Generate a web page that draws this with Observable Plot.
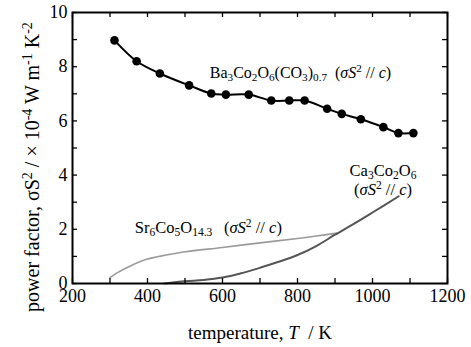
<!DOCTYPE html>
<html><head><meta charset="utf-8">
<script src="https://cdn.jsdelivr.net/npm/d3@7"></script>
<script src="https://cdn.jsdelivr.net/npm/@observablehq/plot@0.6"></script>
<style>body{margin:0;background:#fff} svg text{white-space:pre}</style>
</head><body><div id="chart"></div>
<script>
// Ba3Co2O6(CO3)0.7 measured points
const baT  = [312, 371, 433, 511, 570, 609, 670, 730, 778, 819, 879, 918, 969, 1029, 1069, 1109];
const baPF = [8.97, 8.20, 7.75, 7.31, 7.01, 6.97, 6.97, 6.75, 6.75, 6.75, 6.45, 6.26, 6.06, 5.77, 5.55, 5.55];
// Sr6Co5O14.3 curve
const srT  = [300, 320, 350, 400, 450, 500, 600, 700, 800, 850, 905];
const srPF = [0.22, 0.40, 0.62, 0.90, 1.05, 1.17, 1.33, 1.50, 1.66, 1.75, 1.86];
// Ca3Co2O6 curve
const caT  = [445, 500, 550, 600, 650, 700, 750, 800, 850, 900, 950, 1000, 1070];
const caPF = [0.00, 0.08, 0.13, 0.22, 0.38, 0.58, 0.80, 1.05, 1.38, 1.80, 2.20, 2.62, 3.22];
// ticks
const xTicks = [200, 400, 600, 800, 1000, 1200];
const xMinor = [200, 300, 400, 500, 600, 700, 800, 900, 1000, 1100, 1200];
const yTicks = [0, 2, 4, 6, 8, 10];
const yMinor = [0, 1, 2, 3, 4, 5, 6, 7, 8, 9, 10];
// series labels (markup: _{sub} ^{sup} *italic*)
const startLabels = ["Ba_{3}Co_{2}O_{6}(CO_{3})_{0.7}  (*σS*^{2} // *c*)", "Sr_{6}Co_{5}O_{14.3}  \u2009(*σS*^{2} // *c*)"];
const startT  = [566, 366];
const startPF = [7.79, 2.07];
const startSize = [16, 16.5];
const midLabels = ["Ca_{3}Co_{2}O_{6}", "(*σS*^{2} // *c*)"];
const midT  = [1028, 1028];
const midPF = [4.17, 3.47];
const xLabel = "temperature, *T*  / K";
const yLabel = "power factor, σS^{2} / × 10^{-4} W m^{-1} K^{-2}";

const FONT = "'Liberation Serif', 'Times New Roman', serif";
const ba = baT.map((t, i) => ({T: t, pf: baPF[i]}));
const sr = srT.map((t, i) => ({T: t, pf: srPF[i]}));
const ca = caT.map((t, i) => ({T: t, pf: caPF[i]}));
const sLab = startLabels.map((s, i) => ({s, T: startT[i], pf: startPF[i], fs: startSize[i]}));
const mLab = midLabels.map((s, i) => ({s, T: midT[i], pf: midPF[i]}));

const W = 471, H = 347, mL = 72, mR = 24, mT = 12, mB = 64;
const iw = W - mL - mR, ih = H - mT - mB, tl = 5;
const LF = 16.5, XF = 19, YF = 20;

const chart = Plot.plot({
  width: W, height: H,
  marginLeft: mL, marginRight: mR, marginTop: mT, marginBottom: mB,
  style: {fontFamily: FONT, fontSize: "17px", background: "#fff", color: "#000", overflow: "visible"},
  x: {domain: [200, 1200], axis: null},
  y: {domain: [0, 10], axis: null},
  marks: [
    Plot.line(sr, {x: "T", y: "pf", stroke: "#9a9a9a", strokeWidth: 1.6, curve: "catmull-rom"}),
    Plot.line(ca, {x: "T", y: "pf", stroke: "#555", strokeWidth: 2, curve: "catmull-rom"}),
    Plot.line(ba, {x: "T", y: "pf", stroke: "#000", strokeWidth: 2, curve: "catmull-rom"}),
    Plot.dot(ba, {x: "T", y: "pf", r: 4.3, fill: "#000", stroke: "none"}),
    // inward ticks on all four sides
    Plot.ruleX(xMinor, {x: d => d, insetTop: ih - tl, strokeWidth: 1.3}),
    Plot.ruleX(xMinor, {x: d => d, insetBottom: ih - tl, strokeWidth: 1.3}),
    Plot.ruleY(yMinor, {y: d => d, insetRight: iw - tl, strokeWidth: 1.3}),
    Plot.ruleY(yMinor, {y: d => d, insetLeft: iw - tl, strokeWidth: 1.3}),
    Plot.frame({stroke: "#000", strokeWidth: 2}),
    Plot.axisX({ticks: xTicks, tickSize: 0, tickPadding: 6, tickFormat: d => String(d), label: null, fontSize: 18, className: "tick"}),
    Plot.axisY({ticks: yTicks, tickSize: 0, tickPadding: 5, tickFormat: d => String(d), label: null, fontSize: 18, className: "tick"}),
    Plot.text(sLab, {x: "T", y: "pf", text: "s", textAnchor: "start", fontSize: "fs", className: "slab"}),
    Plot.text(mLab, {x: "T", y: "pf", text: "s", textAnchor: "middle", fontSize: LF, className: "mlab"}),
    Plot.text([xLabel], {frameAnchor: "bottom", lineAnchor: "middle", text: d => d, dy: 49, fontSize: XF, className: "xlab"}),
    Plot.text([yLabel], {frameAnchor: "left", textAnchor: "middle", lineAnchor: "middle", text: d => d, dx: -40, dy: 19, rotate: -90, fontSize: YF, className: "ylab"})
  ]
});

function rich(el, markup, base) {
  const sel = d3.select(el);
  sel.text(null);
  const re = /(_\{[^}]*\}|\^\{[^}]*\}|\*[^*]*\*)/;
  let shift = 0;
  markup.split(re).filter(s => s).forEach(tok => {
    let txt = tok, dy = 0, size = null, italic = false;
    if (tok.startsWith("_{")) { txt = tok.slice(2, -1); dy = 0.2 * base; size = 0.7 * base; }
    else if (tok.startsWith("^{")) { txt = tok.slice(2, -1); dy = -0.33 * base; size = 0.7 * base; }
    else if (tok.startsWith("*")) { txt = tok.slice(1, -1); italic = true; }
    const t = sel.append("tspan").text(txt).attr("dy", dy - shift);
    shift = dy;
    if (size) t.attr("font-size", size);
    if (italic) t.attr("font-style", "italic");
  });
}
d3.select(chart).selectAll("g.slab text").each(function(d, i) { rich(this, startLabels[i], startSize[i]); });
d3.select(chart).selectAll("g.mlab text").each(function(d, i) { rich(this, midLabels[i], LF); });
d3.select(chart).selectAll("g.xlab text").each(function() { rich(this, xLabel, XF); });
d3.select(chart).selectAll("g.ylab text").each(function() { rich(this, yLabel, YF); });
d3.select(chart).selectAll("text, tspan").style("font-family", FONT).style("font-variant", "normal");

document.getElementById("chart").appendChild(chart);
</script>
</body></html>
